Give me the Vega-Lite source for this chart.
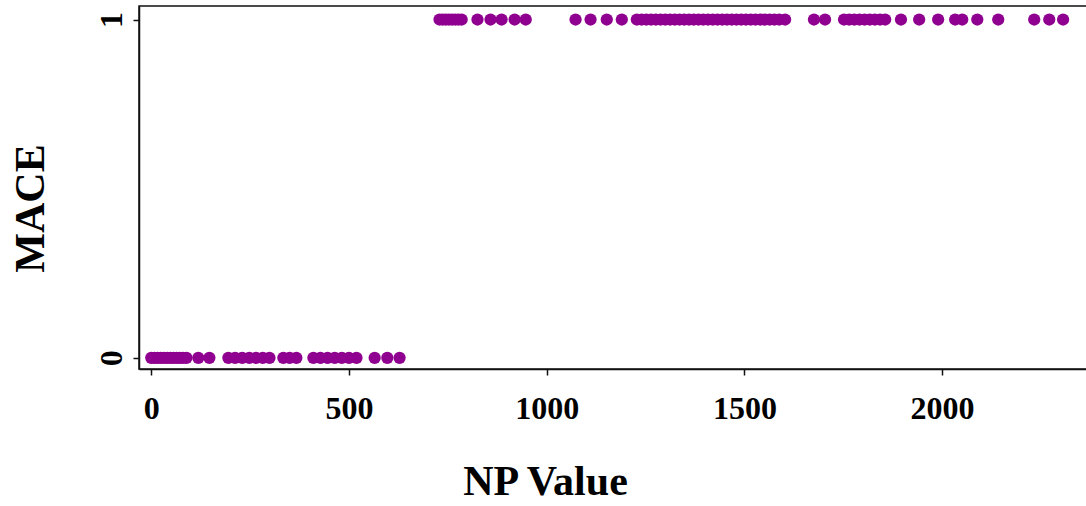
{
  "$schema": "https://vega.github.io/schema/vega-lite/v6.json",
  "autosize": "none",
  "padding": {"left": 139, "top": 6, "right": 0, "bottom": 137},
  "width": 949,
  "height": 363,
  "background": "white",
  "config": {
    "font": "Liberation Serif",
    "view": {"stroke": "#111111", "strokeWidth": 1.5},
    "axis": {
      "grid": false,
      "domainColor": "#111111",
      "domainWidth": 1.5,
      "tickColor": "#111111",
      "tickWidth": 1.5,
      "tickSize": 6,
      "labelColor": "black",
      "titleColor": "black",
      "labelFont": "Liberation Serif",
      "titleFont": "Liberation Serif",
      "labelFontWeight": "bold",
      "titleFontWeight": "bold"
    }
  },
  "data": {
    "values": [
      {"np": 0, "mace": 0}, {"np": 8, "mace": 0}, {"np": 16, "mace": 0}, {"np": 24, "mace": 0},
      {"np": 32, "mace": 0}, {"np": 40, "mace": 0}, {"np": 48, "mace": 0}, {"np": 56, "mace": 0},
      {"np": 64, "mace": 0}, {"np": 72, "mace": 0}, {"np": 80, "mace": 0}, {"np": 89, "mace": 0},
      {"np": 119, "mace": 0}, {"np": 147, "mace": 0},
      {"np": 195, "mace": 0}, {"np": 212, "mace": 0}, {"np": 230, "mace": 0}, {"np": 248, "mace": 0},
      {"np": 265, "mace": 0}, {"np": 282, "mace": 0}, {"np": 299, "mace": 0},
      {"np": 334, "mace": 0}, {"np": 350, "mace": 0}, {"np": 367, "mace": 0},
      {"np": 410, "mace": 0}, {"np": 428, "mace": 0}, {"np": 446, "mace": 0}, {"np": 464, "mace": 0},
      {"np": 482, "mace": 0}, {"np": 500, "mace": 0}, {"np": 519, "mace": 0},
      {"np": 565, "mace": 0}, {"np": 597, "mace": 0}, {"np": 628, "mace": 0},
      {"np": 729, "mace": 1}, {"np": 737, "mace": 1}, {"np": 745, "mace": 1}, {"np": 753, "mace": 1},
      {"np": 761, "mace": 1}, {"np": 769, "mace": 1}, {"np": 777, "mace": 1}, {"np": 785, "mace": 1},
      {"np": 825, "mace": 1}, {"np": 858, "mace": 1}, {"np": 886, "mace": 1}, {"np": 919, "mace": 1},
      {"np": 947, "mace": 1},
      {"np": 1073, "mace": 1}, {"np": 1111, "mace": 1}, {"np": 1152, "mace": 1}, {"np": 1190, "mace": 1},
      {"np": 1228, "mace": 1}, {"np": 1240, "mace": 1}, {"np": 1252, "mace": 1}, {"np": 1264, "mace": 1},
      {"np": 1276, "mace": 1}, {"np": 1288, "mace": 1}, {"np": 1300, "mace": 1}, {"np": 1312, "mace": 1},
      {"np": 1324, "mace": 1}, {"np": 1336, "mace": 1}, {"np": 1348, "mace": 1}, {"np": 1360, "mace": 1},
      {"np": 1372, "mace": 1}, {"np": 1384, "mace": 1}, {"np": 1396, "mace": 1}, {"np": 1408, "mace": 1},
      {"np": 1420, "mace": 1}, {"np": 1432, "mace": 1}, {"np": 1444, "mace": 1}, {"np": 1456, "mace": 1},
      {"np": 1468, "mace": 1}, {"np": 1480, "mace": 1}, {"np": 1492, "mace": 1}, {"np": 1504, "mace": 1},
      {"np": 1516, "mace": 1}, {"np": 1528, "mace": 1}, {"np": 1540, "mace": 1}, {"np": 1552, "mace": 1},
      {"np": 1564, "mace": 1}, {"np": 1576, "mace": 1}, {"np": 1588, "mace": 1}, {"np": 1603, "mace": 1},
      {"np": 1676, "mace": 1}, {"np": 1704, "mace": 1},
      {"np": 1752, "mace": 1}, {"np": 1765, "mace": 1}, {"np": 1778, "mace": 1}, {"np": 1791, "mace": 1},
      {"np": 1804, "mace": 1}, {"np": 1817, "mace": 1}, {"np": 1830, "mace": 1}, {"np": 1843, "mace": 1},
      {"np": 1856, "mace": 1},
      {"np": 1896, "mace": 1}, {"np": 1942, "mace": 1}, {"np": 1990, "mace": 1}, {"np": 2033, "mace": 1},
      {"np": 2051, "mace": 1}, {"np": 2089, "mace": 1}, {"np": 2142, "mace": 1},
      {"np": 2233, "mace": 1}, {"np": 2271, "mace": 1}, {"np": 2306, "mace": 1}
    ]
  },
  "mark": {"type": "point", "filled": true, "opacity": 1, "size": 150, "color": "#900090", "shape": "circle"},
  "encoding": {
    "x": {
      "field": "np",
      "type": "quantitative",
      "scale": {"domain": [-31, 2369], "nice": false, "zero": false},
      "axis": {
        "values": [0, 500, 1000, 1500, 2000],
        "format": "d",
        "labelFontSize": 32,
        "labelPadding": 18,
        "labelFlush": false,
        "title": "NP Value",
        "titleFontSize": 42,
        "titlePadding": 37,
        "titleX": 406
      }
    },
    "y": {
      "field": "mace",
      "type": "quantitative",
      "scale": {"domain": [-0.033, 1.04], "nice": false, "zero": false},
      "axis": {
        "values": [0, 1],
        "format": "d",
        "labelAngle": -90,
        "labelAlign": "center",
        "labelBaseline": "bottom",
        "labelFontSize": 32,
        "labelPadding": 5,
        "labelFlush": false,
        "title": "MACE",
        "titleFontSize": 42,
        "titlePadding": 43,
        "titleY": 202
      }
    }
  }
}
